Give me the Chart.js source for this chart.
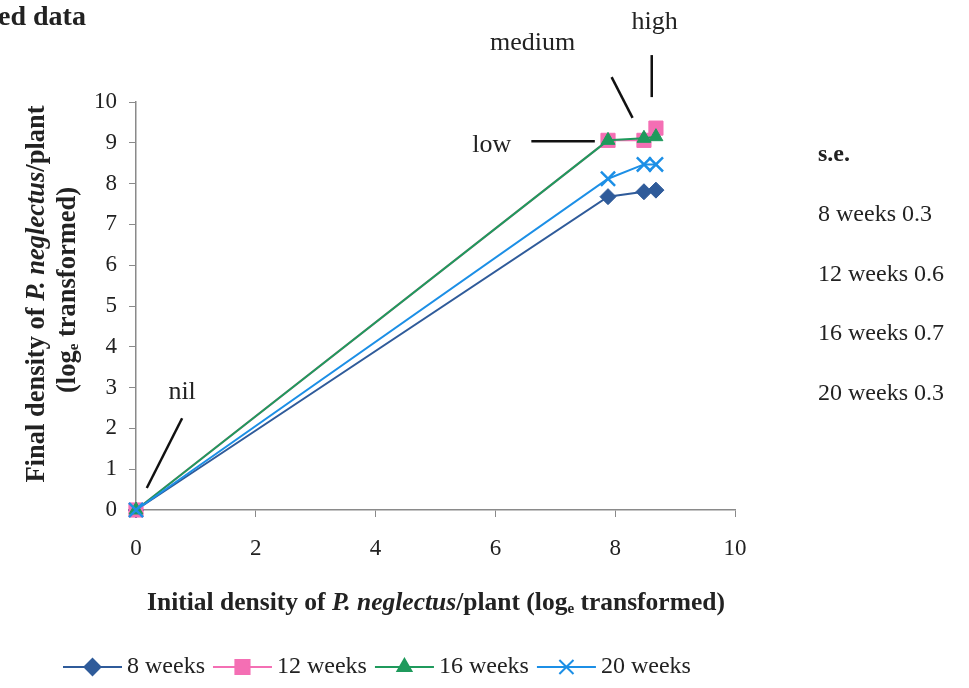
<!DOCTYPE html>
<html>
<head>
<meta charset="utf-8">
<script src="https://cdn.jsdelivr.net/npm/chart.js@4/dist/chart.umd.min.js"></script>
<style>
  html, body { margin: 0; padding: 0; background: #fff; }
  #wrap { width: 969px; height: 688px; position: relative; }
</style>
</head>
<body>
<div id="wrap"><canvas id="grafico" width="969" height="688"></canvas></div>
<script>
// Dados
const densidadeInicial = [0, 7.88, 8.48, 8.68];   // nil, low, medium, high
const semanas8  = [0, 7.68, 7.80, 7.84];
const semanas12 = [0, 9.06, 9.06, 9.36];
const semanas16 = [0, 9.06, 9.11, 9.15];
const semanas20 = [0, 8.12, 8.47, 8.47];
const nomesSeries = ['8 weeks', '12 weeks', '16 weeks', '20 weeks'];
const errosPadrao = ['0.3', '0.6', '0.7', '0.3'];
const rotulosNivel = ['nil', 'low', 'medium', 'high'];

const serif = '"Liberation Serif", "Times New Roman", serif';
const cores = ['#2f5b9a', '#f46fb4', '#1f9a5c', '#1c8fe6'];
const estilos = ['rectRot', 'rect', 'triangle', 'crossRot'];
const raios = [8, 10, 8, 10];

function pontos(ys) { return densidadeInicial.map((x, i) => ({ x: x, y: ys[i] })); }

const series = [semanas8, semanas12, semanas16, semanas20];
const datasets = series.map((ys, i) => ({
  label: nomesSeries[i],
  data: pontos(ys),
  borderColor: cores[i],
  backgroundColor: cores[i],
  borderWidth: 2,
  pointStyle: estilos[i],
  pointRadius: raios[i],
  pointBorderWidth: estilos[i] === 'crossRot' ? 2.5 : 1,
  pointBackgroundColor: cores[i],
  pointBorderColor: cores[i],
  order: 4 - i,
  clip: false,
  tension: 0
}));

// texto com partes em estilos diferentes
function textoRico(ctx, partes, x, y) {
  let total = 0;
  partes.forEach(p => { ctx.font = p.f; total += ctx.measureText(p.t).width; });
  let cx = x - total / 2;
  partes.forEach(p => {
    ctx.font = p.f;
    ctx.fillText(p.t, cx, y + (p.dy || 0));
    cx += ctx.measureText(p.t).width;
  });
}

const anotacoes = {
  id: 'anotacoes',
  afterDraw(chart) {
    const ctx = chart.ctx, sx = chart.scales.x, sy = chart.scales.y;
    const X = v => sx.getPixelForValue(v), Y = v => sy.getPixelForValue(v);
    ctx.save();
    ctx.fillStyle = '#222';
    ctx.textBaseline = 'middle';

    // título cortado
    ctx.font = 'bold 28px ' + serif;
    ctx.textAlign = 'left';
    ctx.fillText('ed data', -2, 18);

    // linhas dos rótulos
    ctx.strokeStyle = '#111';
    ctx.lineWidth = 2.5;
    const linhas = [
      [0.18, 0.54, 0.77, 2.25],
      [6.6, 9.04, 7.66, 9.04],
      [7.94, 10.61, 8.29, 9.61],
      [8.61, 11.15, 8.61, 10.12]
    ];
    linhas.forEach(l => {
      ctx.beginPath();
      ctx.moveTo(X(l[0]), Y(l[1]));
      ctx.lineTo(X(l[2]), Y(l[3]));
      ctx.stroke();
    });
    ctx.font = '26px ' + serif;
    ctx.textAlign = 'center';
    const posRotulos = [[0.77, 2.9], [5.94, 8.95], [6.62, 11.45], [8.66, 11.96]];
    rotulosNivel.forEach((t, i) => ctx.fillText(t, X(posRotulos[i][0]), Y(posRotulos[i][1])));

    // erro padrão
    ctx.textAlign = 'left';
    ctx.font = 'bold 24px ' + serif;
    ctx.fillText('s.e.', 818, 155);
    ctx.font = '24px ' + serif;
    nomesSeries.forEach((n, i) => ctx.fillText(n + ' ' + errosPadrao[i], 818, 215 + i * 59.5));

    // títulos dos eixos
    ctx.textAlign = 'left';
    const b = 'bold 25.5px ' + serif, bi = 'italic bold 25.5px ' + serif, sub = 'bold 15px ' + serif;
    textoRico(ctx, [
      { t: 'Initial density of ', f: b }, { t: 'P. neglectus', f: bi },
      { t: '/plant (log', f: b }, { t: 'e', f: sub, dy: 6 }, { t: ' transformed)', f: b }
    ], 436, 603);
    const b2 = 'bold 26.5px ' + serif, bi2 = 'italic bold 26.5px ' + serif;
    ctx.save();
    ctx.translate(37, 294);
    ctx.rotate(-Math.PI / 2);
    textoRico(ctx, [
      { t: 'Final density of ', f: b2 }, { t: 'P. neglectus', f: bi2 }, { t: '/plant', f: b2 }
    ], 0, 0);
    textoRico(ctx, [
      { t: '(log', f: b2 }, { t: 'e', f: sub, dy: 6 }, { t: ' transformed)', f: b2 }
    ], 4, 31);
    ctx.restore();

    // legenda
    const yl = 667, compLinha = 59;
    let lx = 63;
    ctx.font = '24px ' + serif;
    nomesSeries.forEach((n, i) => {
      ctx.strokeStyle = cores[i];
      ctx.lineWidth = 2;
      ctx.beginPath();
      ctx.moveTo(lx, yl);
      ctx.lineTo(lx + compLinha, yl);
      ctx.stroke();
      ctx.fillStyle = cores[i];
      Chart.helpers.drawPoint(ctx, {
        pointStyle: estilos[i], radius: raios[i], rotation: 0,
        borderWidth: estilos[i] === 'crossRot' ? 2.5 : 1
      }, lx + compLinha / 2, yl);
      ctx.fillStyle = '#222';
      ctx.font = '24px ' + serif;
      ctx.textAlign = 'left';
      ctx.fillText(n, lx + compLinha + 5, yl);
      lx += compLinha + 5 + ctx.measureText(n).width + 8;
    });
    ctx.restore();
  }
};

const fundo = {
  id: 'fundo',
  beforeDraw(chart) {
    const ctx = chart.ctx;
    ctx.save();
    ctx.fillStyle = '#fff';
    ctx.fillRect(0, 0, chart.width, chart.height);
    ctx.restore();
  }
};

const eixo = {
  border: { color: '#8a8a8a', width: 1.5 },
  grid: { drawOnChartArea: false, drawTicks: true, tickLength: 7, color: '#8a8a8a' },
  ticks: { color: '#222', font: { family: serif, size: 23 } }
};

new Chart(document.getElementById('grafico').getContext('2d'), {
  type: 'line',
  data: { datasets: datasets },
  options: {
    responsive: false,
    animation: false,
    layout: { padding: { left: 0, top: 102, right: 234, bottom: 0 } },
    plugins: { legend: { display: false }, tooltip: { enabled: false } },
    scales: {
      x: Object.assign({}, eixo, {
        type: 'linear', min: 0, max: 10,
        ticks: Object.assign({}, eixo.ticks, { stepSize: 2, padding: 18 }),
        afterFit: s => { s.height = 178; }
      }),
      y: Object.assign({}, eixo, {
        type: 'linear', min: 0, max: 10,
        ticks: Object.assign({}, eixo.ticks, { stepSize: 1, padding: 12 }),
        afterFit: s => { s.width = 136; }
      })
    }
  },
  plugins: [fundo, anotacoes]
});
</script>
</body>
</html>
